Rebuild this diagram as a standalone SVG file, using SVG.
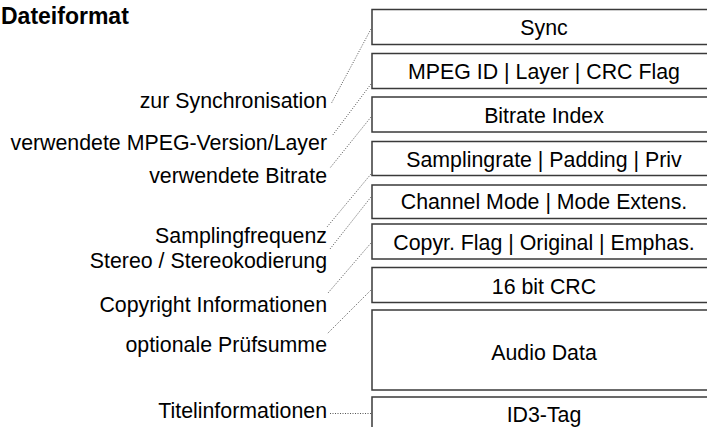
<svg xmlns="http://www.w3.org/2000/svg" width="707" height="427" viewBox="0 0 707 427">
  <style>
    .box { fill: #ffffff; stroke: #3a3a3a; stroke-width: 1.5; }
    .field { font-family: "Liberation Sans", Arial, sans-serif; font-size: 21.33px; fill: #000; text-anchor: middle; }
    .label { font-family: "Liberation Sans", Arial, sans-serif; font-size: 21.33px; fill: #000; text-anchor: end; }
    .title { font-family: "Liberation Sans", Arial, sans-serif; font-size: 23px; font-weight: bold; fill: #000; }
    .leader { stroke: #555; stroke-width: 1; stroke-dasharray: 1 1.5; fill: none; }
  </style>
  <rect width="707" height="427" fill="#ffffff"/>

  <text class="title" x="1" y="24">Dateiformat</text>

  <!-- frame fields -->
  <g id="sync"><rect class="box" x="372" y="9.5" width="344" height="35"/><text class="field" x="544" y="35">Sync</text></g>
  <g id="mpeg-id"><rect class="box" x="372" y="53.5" width="344" height="35"/><text class="field" x="544" y="78.5">MPEG ID | Layer | CRC Flag</text></g>
  <g id="bitrate"><rect class="box" x="372" y="97" width="344" height="35"/><text class="field" x="544" y="122.5">Bitrate Index</text></g>
  <g id="sampling"><rect class="box" x="372" y="141.5" width="344" height="34"/><text class="field" x="544" y="166.5">Samplingrate | Padding | Priv</text></g>
  <g id="channel"><rect class="box" x="372" y="185" width="344" height="33.5"/><text class="field" x="544" y="208.5">Channel Mode | Mode Extens.</text></g>
  <g id="copyright"><rect class="box" x="372" y="224" width="344" height="35"/><text class="field" x="544" y="250">Copyr. Flag | Original | Emphas.</text></g>
  <g id="crc"><rect class="box" x="372" y="267.5" width="344" height="35"/><text class="field" x="544" y="293.5">16 bit CRC</text></g>
  <g id="audio"><rect class="box" x="372" y="310" width="344" height="80"/><text class="field" x="544" y="360">Audio Data</text></g>
  <g id="id3"><rect class="box" x="372" y="397" width="344" height="40"/><text class="field" x="544" y="421.5">ID3-Tag</text></g>

  <!-- descriptions -->
  <g id="desc-sync"><text class="label" x="327" y="108">zur Synchronisation</text></g>
  <g id="desc-version"><text class="label" x="327" y="150">verwendete MPEG-Version/Layer</text></g>
  <g id="desc-bitrate"><text class="label" x="327" y="183">verwendete Bitrate</text></g>
  <g id="desc-sampling"><text class="label" x="327" y="243">Samplingfrequenz</text></g>
  <g id="desc-stereo"><text class="label" x="327" y="268">Stereo / Stereokodierung</text></g>
  <g id="desc-copyright"><text class="label" x="327" y="312">Copyright Informationen</text></g>
  <g id="desc-crc"><text class="label" x="327" y="352">optionale Prüfsumme</text></g>
  <g id="desc-id3"><text class="label" x="327" y="418">Titelinformationen</text></g>

  <!-- dotted leaders -->
  <g id="connectors">
    <line class="leader" x1="371" y1="29" x2="331" y2="104"/>
    <line class="leader" x1="371" y1="84" x2="332" y2="136"/>
    <line class="leader" x1="371" y1="117" x2="330" y2="168"/>
    <line class="leader" x1="371" y1="174" x2="327" y2="227"/>
    <line class="leader" x1="371" y1="197" x2="330" y2="249"/>
    <line class="leader" x1="371" y1="243" x2="328" y2="293"/>
    <line class="leader" x1="371" y1="290" x2="327" y2="334"/>
    <line class="leader" x1="330" y1="413.5" x2="371" y2="413.5"/>
  </g>
</svg>
